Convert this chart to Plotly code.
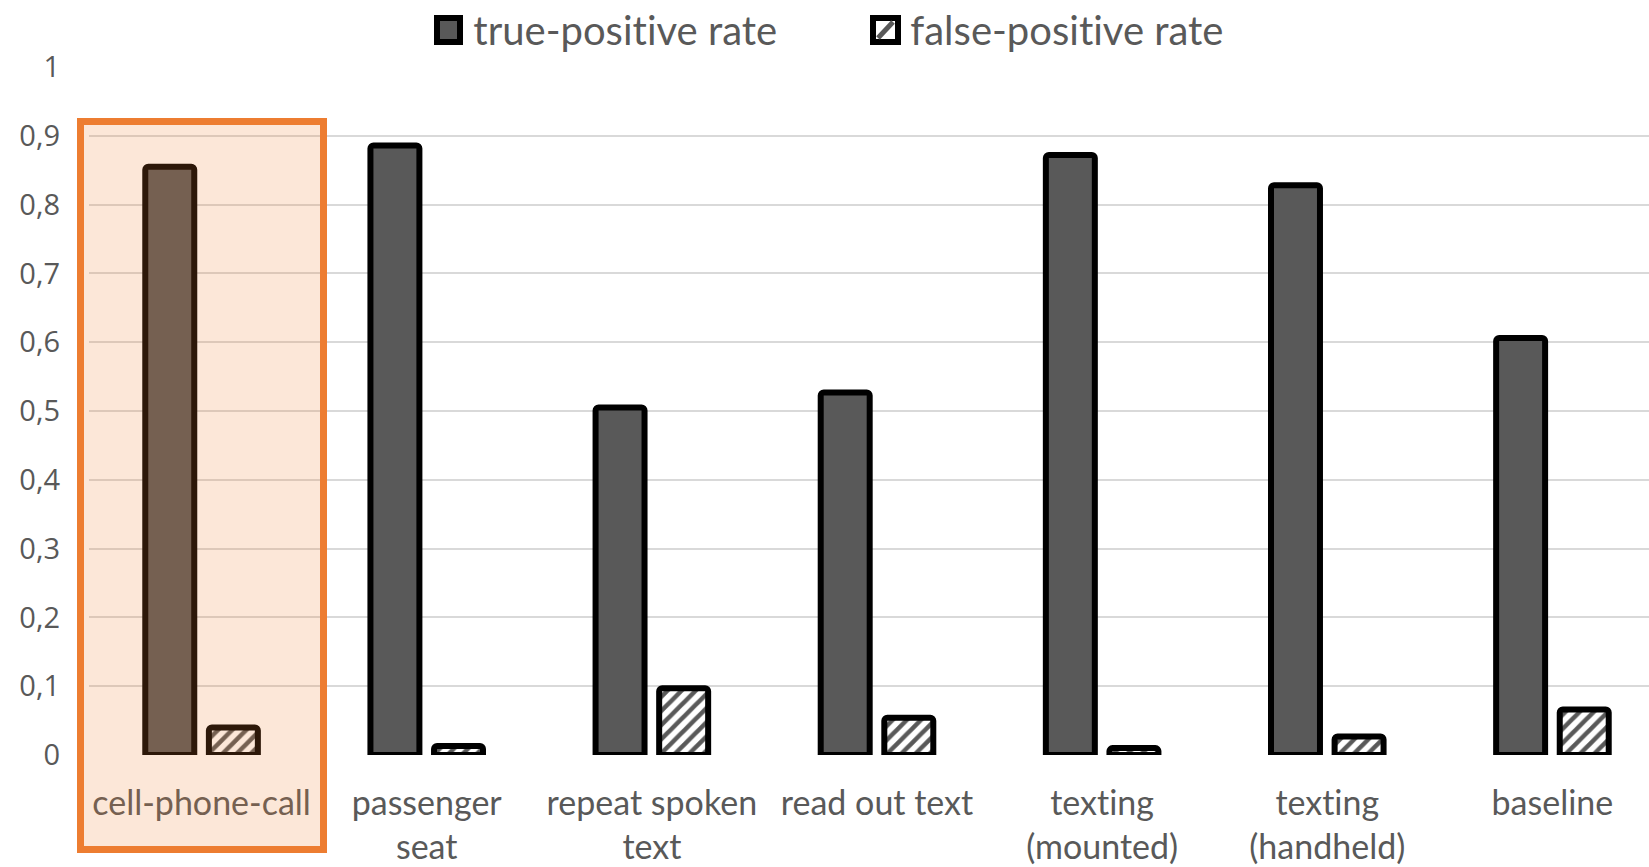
import plotly.graph_objects as go

categories = ["cell-phone-call", "passenger<br>seat", "repeat spoken<br>text", "read out text",
              "texting<br>(mounted)", "texting<br>(handheld)", "baseline"]
true_positive = [0.855, 0.886, 0.505, 0.527, 0.872, 0.828, 0.606]
false_positive = [0.040, 0.013, 0.097, 0.054, 0.010, 0.027, 0.066]
y_ticks = [0, 0.1, 0.2, 0.3, 0.4, 0.5, 0.6, 0.7, 0.8, 0.9, 1]
series_names = ["true-positive rate", "false-positive rate"]

# the plot area runs slightly past the right edge of the 1649px window, as in the reference
W, H = 1665, 867
L, R, T, B = 89, 0, 67, 112
GRAY = "#595959"

fig = go.Figure()
fig.add_trace(go.Bar(
    x=categories, y=true_positive, name=series_names[0],
    marker=dict(color=GRAY, line=dict(color="black", width=6), cornerradius=3),
))
fig.add_trace(go.Bar(
    x=categories, y=false_positive, name=series_names[1],
    marker=dict(color="white", line=dict(color="black", width=6), cornerradius=3,
                pattern=dict(shape="/", fgcolor=GRAY, bgcolor="white", size=10, solidity=0.45,
                             fillmode="replace")),
))

pw, ph = W - L - R, H - T - B
def px_x(p):
    return (p - L) / pw
def px_y(p):
    return (H - B - p) / ph

# custom legend (large symbols as in the reference)
fig.add_shape(type="rect", xref="paper", yref="paper",
              x0=px_x(437), x1=px_x(460), y0=px_y(42), y1=px_y(18),
              line=dict(color="black", width=6), fillcolor=GRAY, layer="above")
fig.add_shape(type="rect", xref="paper", yref="paper",
              x0=px_x(873), x1=px_x(898), y0=px_y(42), y1=px_y(18),
              line=dict(color="black", width=6), fillcolor="white", layer="above")
fig.add_shape(type="line", xref="paper", yref="paper",
              x0=px_x(878), x1=px_x(893), y0=px_y(38), y1=px_y(22),
              line=dict(color=GRAY, width=5), layer="above")
for name, xpx in zip(series_names, [471, 908]):
    fig.add_annotation(text=name, xref="paper", yref="paper", x=px_x(xpx), y=px_y(30),
                       xanchor="left", yanchor="middle", showarrow=False,
                       font=dict(size=40, family="Lato", color=GRAY))

# highlight box around first category
fig.add_shape(type="rect", xref="paper", yref="paper",
              x0=px_x(80.5), x1=px_x(323.5), y0=px_y(849.5), y1=px_y(121.5),
              line=dict(color="#ED7D31", width=7), fillcolor="rgba(237,125,49,0.19)",
              layer="above")

fig.update_layout(
    width=W, height=H,
    margin=dict(l=L, r=R, t=T, b=B, autoexpand=False),
    plot_bgcolor="white", paper_bgcolor="white",
    separators=",.",
    barmode="group", bargap=0.435, bargroupgap=0.23,
    font=dict(family="Lato", color=GRAY),
    showlegend=False,
)
fig.update_xaxes(showgrid=False, showline=False, ticks="",
                 tickfont=dict(size=34, family="Lato", color=GRAY), ticklabelstandoff=25)
fig.update_yaxes(range=[0, 1], tickvals=y_ticks, showgrid=True, gridcolor="#D9D9D9", gridwidth=2,
                 zeroline=False, showline=False, ticks="",
                 tickfont=dict(size=29, family="Open Sans", color=GRAY), ticklabelstandoff=28)

post = (
    "document.body.style.margin='0';"
    "document.body.style.overflow='hidden';"
    "var st=document.createElement('style');"
    "st.textContent='text{font-variant-ligatures:none !important;}';"
    "document.head.appendChild(st);"
)
fig.write_html("out.html", config={"displayModeBar": False}, post_script=post)
